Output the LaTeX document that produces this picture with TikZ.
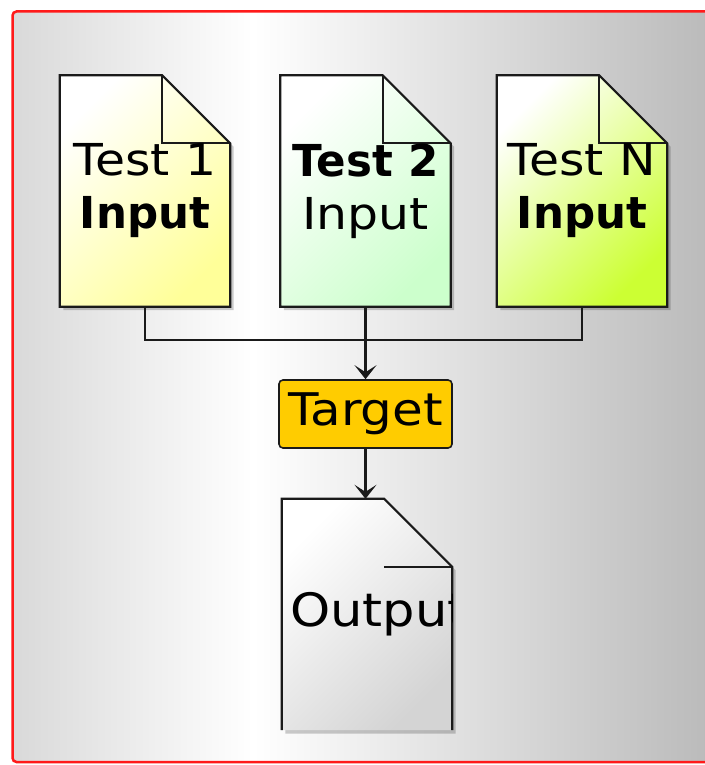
\documentclass[tikz,border=0pt]{standalone}
\usepackage{fontspec}
\setmainfont{DejaVu Sans}[FakeStretch=1.11, BoldFont=DejaVu Sans Bold, BoldFeatures={FakeStretch=0.99}]
\usetikzlibrary{arrows.meta,shadows}

\definecolor{framered}{HTML}{FF1A1A}
\definecolor{panelleft}{HTML}{D9D9D9}
\definecolor{panelright}{HTML}{B9B9B9}
\definecolor{docyellow}{HTML}{FFFF99}
\definecolor{docgreen}{HTML}{CCFFCC}
\definecolor{doclime}{HTML}{CCFF33}
\definecolor{docgray}{HTML}{D4D4D4}
\definecolor{targetfill}{HTML}{FFCC00}
\definecolor{inkline}{HTML}{1A1A1A}

\pgfdeclarehorizontalshading{panel}{100bp}{color(0bp)=(panelleft); color(25bp)=(panelleft); color(42bp)=(white); color(75bp)=(panelright); color(100bp)=(panelright)}

\pgfdeclarelayer{frame}
\pgfdeclarelayer{bg}
\pgfsetlayers{frame,bg,main}

\newcommand{\docfont}{\fontsize{44}{53}\selectfont}
\newcommand{\fold}{68pt}

\tikzset{
  docnode/.style={rectangle, minimum width=170pt, minimum height=231pt, inner sep=0pt, align=center, font=\docfont},
  docshadow/.style={drop shadow={shadow xshift=3.5pt, shadow yshift=-3.5pt, opacity=.2, fill=black}},
  link/.style={draw=inkline, line width=2.2pt},
  arrowlink/.style={link, -{Stealth[length=14pt,width=22pt,inset=7pt]}}
}

\begin{document}
\begin{tikzpicture}[x=1pt, y={(0pt,-1pt)}]

  \useasboundingbox (0,0) rectangle (704,765);

  \begin{pgfonlayer}{frame}
    \shade[shading=panel, draw=framered, line width=2.5pt, rounded corners=4pt] (12.5,11.5) rectangle (720,762);
  \end{pgfonlayer}

  \begin{scope}[every node/.style={docnode}]
    \node (t1) at (145,191) {Test 1\\\textbf{Input}};
    \node (t2) at (365.5,191) {\textbf{Test 2}\\Input};
    \node (tn) at (582,191) {Test N\\\textbf{Input}};
    \node[path picture={\node[anchor=west, inner sep=0pt] at ([xshift=8pt]path picture bounding box.west) {\fontsize{46}{53}\selectfont Output};}] (out) at (367,614.5) {};
  \end{scope}

  \node[draw=inkline, line width=1.6pt, fill=targetfill, rounded corners=4pt, minimum width=173pt, minimum height=68pt, inner sep=0pt, font=\fontsize{45}{53}\selectfont] (target) at (365.5,414) {Target};

  % document outlines
  \begin{pgfonlayer}{bg}
    \foreach \n/\c in {t1/docyellow, t2/docgreen, tn/doclime} {
      \draw[link, docshadow, top color=white, bottom color=\c, shading angle=45]
        (\n.north west) -- ([xshift=-\fold]\n.north east) -- ([yshift=-\fold]\n.north east)
        -- (\n.south east) -- (\n.south west) -- cycle;
      \draw[link] ([xshift=-\fold]\n.north east) |- ([yshift=-\fold]\n.north east);
    }
    \shade[docshadow, top color=white, bottom color=docgray, shading angle=45]
      (out.north west) -- ([xshift=-\fold]out.north east) -- ([yshift=-\fold]out.north east)
      -- (out.south east) -- (out.south west) -- cycle;
    \draw[link] (out.south west) -- (out.north west) -- ([xshift=-\fold]out.north east)
      -- ([yshift=-\fold]out.north east) -- (out.south east);
    \draw[link] ([yshift=-\fold, xshift=-\fold]out.north east) -- ([yshift=-\fold]out.north east);
  \end{pgfonlayer}

  % connectors
  \draw[link] (t1.south) |- ([yshift=-33pt]t2.south) -| (tn.south);
  \draw[arrowlink] (t2.south) -- (target.north);
  \draw[arrowlink] (target.south) -- (target.south |- out.north);

\end{tikzpicture}
\end{document}
